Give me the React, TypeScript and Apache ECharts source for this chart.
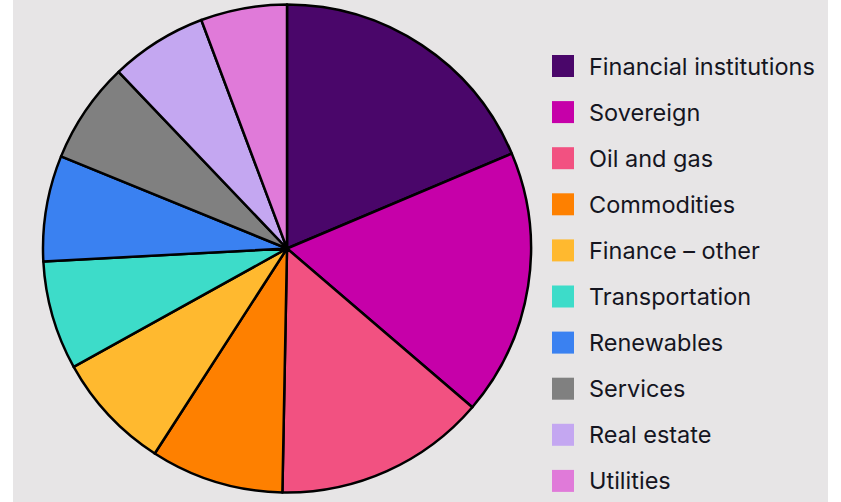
import React, { useEffect, useRef } from "react";
import * as echarts from "echarts";

const categories = [
  "Financial institutions",
  "Sovereign",
  "Oil and gas",
  "Commodities",
  "Finance – other",
  "Transportation",
  "Renewables",
  "Services",
  "Real estate",
  "Utilities",
];
const shares = [18.6, 17.6, 14.0, 8.8, 7.8, 7.2, 7.0, 6.7, 6.4, 5.7];
const colors = [
  "#4a066a",
  "#c600a9",
  "#f25181",
  "#fe8000",
  "#ffb92f",
  "#3ddcc9",
  "#3a81f1",
  "#808080",
  "#c4a7f1",
  "#e07ad9",
];

export default function App() {
  const ref = useRef<HTMLDivElement>(null);
  useEffect(() => {
    if (!ref.current) return;
    const chart = echarts.init(ref.current, undefined, { renderer: "svg" });
    chart.setOption({
      animation: false,
      backgroundColor: "#ffffff",
      graphic: [
        {
          type: "rect",
          z: -10,
          silent: true,
          shape: { x: 13, y: 0, width: 815, height: 502 },
          style: { fill: "#e7e5e6" },
        },
      ],
      legend: {
        orient: "vertical",
        left: 552,
        top: 54,
        height: 480,
        padding: 0,
        itemWidth: 22,
        itemHeight: 22,
        itemGap: 22.1,
        icon: "rect",
        selectedMode: false,
        itemStyle: { borderWidth: 0 },
        data: categories,
        textStyle: {
          fontFamily: "Inter, 'Noto Sans', sans-serif",
          fontSize: 23.5,
          lineHeight: 22,
          color: "#15151f",
          padding: [0, 0, 0, 10],
        },
      },
      series: [
        {
          type: "pie",
          center: [287, 248.5],
          radius: [0, 244],
          startAngle: 90,
          clockwise: true,
          label: { show: false },
          labelLine: { show: false },
          emphasis: { disabled: true },
          itemStyle: { borderColor: "#000000", borderWidth: 2.5 },
          data: categories.map((name, i) => ({
            name,
            value: shares[i],
            itemStyle: { color: colors[i] },
          })),
        },
      ],
    });
    return () => chart.dispose();
  }, []);
  return (
    <div
      style={{ position: "fixed", left: 0, top: 0, width: 841, height: 502, background: "#fff" }}
    >
      <div ref={ref} style={{ width: 841, height: 502 }} />
    </div>
  );
}
